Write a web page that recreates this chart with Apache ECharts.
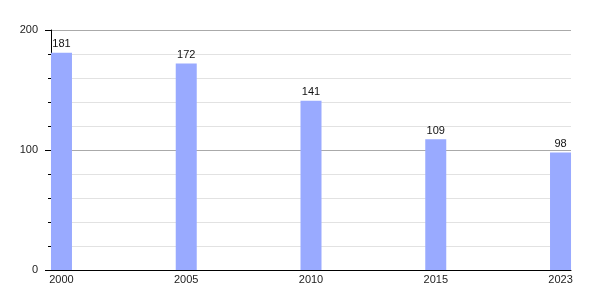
<!DOCTYPE html>
<html><head><meta charset="utf-8">
<script src="https://cdn.jsdelivr.net/npm/echarts@6/dist/echarts.min.js"></script>
<style>html,body{margin:0;padding:0;background:#fff}#c{width:600px;height:300px}</style>
</head><body><div id="c"></div>
<script>
const categories = ['2000', '2005', '2010', '2015', '2023'];
const values = [181, 172, 141, 109, 98];
const yTicks = [0, 100, 200];

const chart = echarts.init(document.getElementById('c'), null, {renderer: 'canvas'});
const font = 'Liberation Sans, Arial, sans-serif';
chart.setOption({
  animation: false,
  grid: {left: 51, right: 29, top: 30, bottom: 30},
  xAxis: {
    type: 'value',
    min: -0.084, max: 4.084,
    axisLine: {show: true, onZero: false, lineStyle: {color: '#000', width: 1}},
    axisTick: {show: false},
    splitLine: {show: false},
    axisLabel: {
      customValues: categories.map((c, i) => i),
      formatter: v => categories[Math.round(v)],
      color: '#222', fontSize: 11, fontFamily: font, margin: 4
    }
  },
  yAxis: {
    type: 'value', min: yTicks[0], max: yTicks[yTicks.length - 1], interval: 100,
    axisLine: {show: true, onZero: false, lineStyle: {color: '#000', width: 1}},
    axisTick: {show: true, length: 6, lineStyle: {color: '#000'}},
    minorTick: {show: true, splitNumber: 5, length: 3, lineStyle: {color: '#000'}},
    splitLine: {show: true, lineStyle: {color: '#aaaaaa', width: 1}},
    minorSplitLine: {show: true, lineStyle: {color: '#e2e2e2', width: 1}},
    axisLabel: {color: '#222', fontSize: 11, fontFamily: font, margin: 13}
  },
  series: [{
    type: 'bar',
    data: values.map((v, i) => [i, v]),
    barWidth: 21,
    itemStyle: {color: '#99aaff'},
    label: {show: true, position: 'top', distance: 3, color: '#111', fontSize: 11, fontFamily: font}
  }]
});
</script></body></html>
